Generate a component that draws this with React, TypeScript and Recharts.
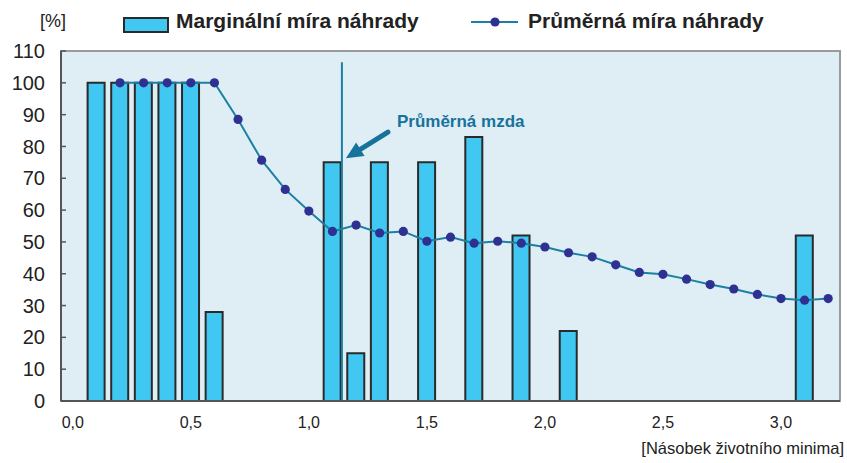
import React from 'react';
import { ComposedChart, Bar, Line, XAxis, YAxis, CartesianGrid, ReferenceLine, ReferenceArea } from 'recharts';

const xValues = [0.1,0.2,0.3,0.4,0.5,0.6,0.7,0.8,0.9,1.0,1.1,1.2,1.3,1.4,1.5,1.6,1.7,1.8,1.9,2.0,2.1,2.2,2.3,2.4,2.5,2.6,2.7,2.8,2.9,3.0,3.1,3.2];
const marginalRate = [100,100,100,100,100,28,null,null,null,null,75,15,75,null,75,null,83,null,52,null,22,null,null,null,null,null,null,null,null,null,52,null];
const averageRate = [null,100,100,100,100,100,88.5,75.7,66.5,59.7,53.3,55.3,52.8,53.3,50.2,51.5,49.6,50.2,49.6,48.4,46.6,45.3,42.8,40.4,39.8,38.3,36.6,35.2,33.5,32.2,31.7,32.2];
const xTicks = [0, 0.5, 1.0, 1.5, 2.0, 2.5, 3.0];
const yTicks = [0,10,20,30,40,50,60,70,80,90,100,110];
const averageWage = 1.14;

const data = xValues.map((x, i) => ({ x, marginal: marginalRate[i], average: averageRate[i] }));

const FONT = '"Liberation Sans", Arial, Helvetica, sans-serif';
const BAR_FILL = '#41c8f2';
const LINE_COLOR = '#1a80a4';
const DOT_COLOR = '#2e3192';
const ARROW_COLOR = '#17739c';

const YTick = (props: any) => {
  const { x, y, payload } = props;
  const axisX = x + 16;
  return (
    <g>
      <line x1={axisX} y1={y} x2={axisX + 5} y2={y} stroke="#555" strokeWidth={1.5} />
      <text x={x} y={y} dy="0.355em" textAnchor="end" fontSize={20} fontFamily={FONT} fill="#222">{payload.value}</text>
    </g>
  );
};

const XTick = (props: any) => {
  const { x, y, payload } = props;
  return (
    <text x={x} y={y} dy="0.71em" textAnchor="middle" fontSize={16} fontFamily={FONT} fill="#222">
      {payload.value.toFixed(1).replace('.', ',')}
    </text>
  );
};

const Dot = (props: any) => {
  const { cx, cy, value } = props;
  if (value == null || cx == null || cy == null) return null;
  return <circle cx={cx} cy={cy} r={4.6} fill={DOT_COLOR} />;
};

const ArrowShape = (props: any) => {
  const { x1, y1, x2, y2 } = props;
  if (x1 == null) return null;
  const dx = x2 - x1, dy = y2 - y1;
  const len = Math.sqrt(dx * dx + dy * dy);
  const ux = dx / len, uy = dy / len;
  const px = -uy, py = ux;
  const headLen = 17, headW = 8;
  const bx = x2 - ux * headLen, by = y2 - uy * headLen;
  return (
    <g>
      <line x1={x1} y1={y1} x2={bx + ux * 2} y2={by + uy * 2} stroke={ARROW_COLOR} strokeWidth={5} strokeLinecap="round" />
      <polygon points={`${x2},${y2} ${bx + px * headW},${by + py * headW} ${bx - px * headW},${by - py * headW}`} fill={ARROW_COLOR} />
      <text x={x1 + 9} y={y1 - 5} fontSize={17} fontWeight="bold" fontFamily={FONT} fill={ARROW_COLOR}>Průměrná mzda</text>
    </g>
  );
};

export default function App() {
  return (
    <div style={{ position: 'absolute', left: 0, top: 0, width: 847, height: 463, background: '#fff' }}>
      <ComposedChart width={847} height={463} data={data} margin={{ top: 51, right: 7, bottom: 32, left: 0 }}>
        <ReferenceArea x1={-0.05} x2={3.25} y1={0} y2={110} fill="#dfedf5" fillOpacity={1} stroke="#9a9a9a" strokeWidth={2} ifOverflow="extendDomain" />
        <CartesianGrid vertical={false} stroke="#ffffff" strokeWidth={2.5} horizontalValues={yTicks.slice(1, -1)} />
        <XAxis
          dataKey="x"
          type="number"
          domain={[-0.05, 3.25]}
          ticks={xTicks}
          interval={0}
          allowDataOverflow
          tickLine={false}
          tickSize={0}
          tickMargin={16}
          height={30}
          axisLine={{ stroke: '#555', strokeWidth: 2 }}
          tick={<XTick />}
        />
        <YAxis
          type="number"
          domain={[0, 110]}
          ticks={yTicks}
          interval={0}
          width={61}
          tickLine={false}
          tickSize={0}
          tickMargin={16}
          axisLine={{ stroke: '#555', strokeWidth: 2 }}
          tick={<YTick />}
        />
        <Bar dataKey="marginal" barSize={17} fill={BAR_FILL} stroke="#2a2a2a" strokeWidth={2} isAnimationActive={false} />
        <ReferenceLine segment={[{ x: averageWage, y: 0 }, { x: averageWage, y: 106.5 }]} stroke={LINE_COLOR} strokeWidth={2} />
        <Line dataKey="average" type="linear" stroke={LINE_COLOR} strokeWidth={2} dot={<Dot />} activeDot={false} isAnimationActive={false} />
        <ReferenceLine segment={[{ x: 1.335, y: 84.5 }, { x: 1.157, y: 76.3 }]} shape={<ArrowShape />} />
      </ComposedChart>

      <div style={{ position: 'absolute', left: 40, top: 11, fontFamily: FONT, fontSize: 18, color: '#222' }}>[%]</div>

      <div style={{ position: 'absolute', left: 123, top: 17, width: 42, height: 12, background: BAR_FILL, border: '2px solid #2a2a2a' }} />
      <div style={{ position: 'absolute', left: 176, top: 9, fontFamily: FONT, fontSize: 21, fontWeight: 'bold', color: '#222', whiteSpace: 'nowrap' }}>Marginální míra náhrady</div>

      <svg style={{ position: 'absolute', left: 468, top: 12 }} width={54} height={20}>
        <line x1={3} y1={10} x2={50} y2={10} stroke={LINE_COLOR} strokeWidth={2} />
        <circle cx={27} cy={10} r={4.6} fill={DOT_COLOR} />
      </svg>
      <div style={{ position: 'absolute', left: 528, top: 9, fontFamily: FONT, fontSize: 21, fontWeight: 'bold', color: '#222', whiteSpace: 'nowrap' }}>Průměrná míra náhrady</div>

      <div style={{ position: 'absolute', right: 3, top: 439, fontFamily: FONT, fontSize: 16.5, color: '#222', whiteSpace: 'nowrap' }}>[Násobek životního minima]</div>
    </div>
  );
}
